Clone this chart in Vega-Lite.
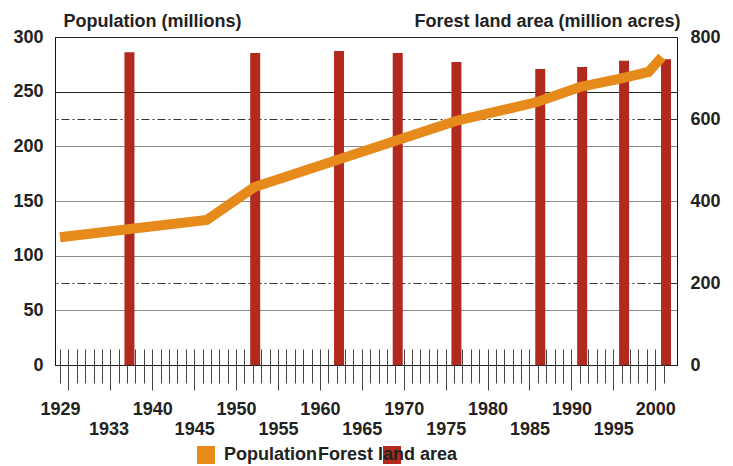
{
  "$schema": "https://vega.github.io/schema/vega-lite/v6.json",
  "width": 622,
  "height": 328,
  "autosize": {"type": "none"},
  "padding": {"left": 55, "top": 37, "right": 56, "bottom": 101},
  "background": "white",
  "config": {
    "font": "Liberation Sans",
    "view": {"stroke": "#222", "strokeWidth": 1}
  },
  "datasets": {
    "forest": [
      {"year": 1938, "forest_area": 763},
      {"year": 1953, "forest_area": 761},
      {"year": 1963, "forest_area": 766},
      {"year": 1970, "forest_area": 761},
      {"year": 1977, "forest_area": 739},
      {"year": 1987, "forest_area": 722},
      {"year": 1992, "forest_area": 727},
      {"year": 1997, "forest_area": 742},
      {"year": 2002, "forest_area": 746}
    ],
    "population": [
      {"year": 1929, "population": 116.8},
      {"year": 1946.5, "population": 132.6},
      {"year": 1952.2, "population": 162.8},
      {"year": 1976.2, "population": 223.2},
      {"year": 1985.9, "population": 240.5},
      {"year": 1991.0, "population": 254.3},
      {"year": 1995.7, "population": 261.6},
      {"year": 1999.2, "population": 268.0},
      {"year": 2000.8, "population": 281.7}
    ]
  },
  "encoding": {
    "x": {
      "field": "year",
      "type": "quantitative",
      "scale": {"domain": [1929, 2002], "nice": false, "zero": false},
      "axis": {
        "title": null,
        "offset": -16,
        "domain": false,
        "values": [1929,1930,1931,1932,1933,1934,1935,1936,1937,1938,1939,1940,1941,1942,1943,1944,1945,1946,1947,1948,1949,1950,1951,1952,1953,1954,1955,1956,1957,1958,1959,1960,1961,1962,1963,1964,1965,1966,1967,1968,1969,1970,1971,1972,1973,1974,1975,1976,1977,1978,1979,1980,1981,1982,1983,1984,1985,1986,1987,1988,1989,1990,1991,1992,1993,1994,1995,1996,1997,1998,1999,2000,2001],
        "tickCount": 200,
        "labelExpr": "indexof([1929,1933,1940,1945,1950,1955,1960,1965,1970,1975,1980,1985,1990,1995,2000], datum.value) >= 0 ? format(datum.value, 'd') : ''",
        "labelOverlap": false,
        "labelFlush": false,
        "labelBound": false,
        "labelFontSize": 18,
        "labelFontWeight": "bold",
        "labelColor": "#222",
        "labelBaseline": "top",
        "labelPadding": {
          "condition": [
            {"test": "datum.value === 1933", "value": 37},
            {"test": "indexof([1945,1955,1965,1975,1985,1995], datum.value) >= 0", "value": 30},
            {"test": "datum.value === 1929", "value": 17}
          ],
          "value": 10
        },
        "labelOffset": {"condition": {"test": "datum.value === 1933", "value": 15}, "value": 0},
        "tickSize": {"condition": {"test": "datum.value % 5 === 0", "value": 41}, "value": 34},
        "tickColor": "#444",
        "tickWidth": 1,
        "grid": false
      }
    }
  },
  "layer": [
    {
      "data": {"name": "forest"},
      "mark": {"type": "bar", "width": 10, "xOffset": -6},
      "encoding": {
        "y": {
          "field": "forest_area",
          "type": "quantitative",
          "scale": {"domain": [0, 800], "nice": false},
          "axis": {
            "orient": "right",
            "title": "Forest land area (million acres)",
            "titleAngle": 0,
            "titleX": 3,
            "titleY": -11,
            "titleAlign": "right",
            "titleBaseline": "alphabetic",
            "titleFontSize": 18,
            "titleFontWeight": "bold",
            "titleColor": "#222",
            "values": [0, 200, 400, 600, 800],
            "ticks": false,
            "labelPadding": 13,
            "labelFontSize": 18,
            "labelFontWeight": "bold",
            "labelColor": "#222",
            "domainColor": "#111",
            "grid": true,
            "gridColor": "#333",
            "gridDash": [8, 3, 2, 3],
            "gridWidth": 1,
            "gridOpacity": {"condition": {"test": "datum.value === 200 || datum.value === 600", "value": 1}, "value": 0}
          }
        },
        "fill": {
          "datum": "Forest land area",
          "type": "nominal",
          "scale": {"domain": ["Forest land area"], "range": ["#B2291E"]},
          "legend": {
            "title": null,
            "orient": "none",
            "direction": "horizontal",
            "legendX": 263,
            "legendY": 409,
            "padding": 0,
            "symbolType": "square",
            "symbolSize": 324,
            "symbolStrokeWidth": 0,
            "symbolOpacity": 1,
            "symbolOffset": 65,
            "labelOffset": -83,
            "labelFontSize": 18,
            "labelFontWeight": "bold",
            "labelColor": "#222",
            "labelLimit": 400
          }
        }
      }
    },
    {
      "data": {"name": "population"},
      "mark": {"type": "line", "strokeWidth": 10, "strokeCap": "butt", "strokeJoin": "miter"},
      "encoding": {
        "y": {
          "field": "population",
          "type": "quantitative",
          "scale": {"domain": [0, 300], "nice": false},
          "axis": {
            "orient": "left",
            "title": "Population (millions)",
            "titleAngle": 0,
            "titleX": 8,
            "titleY": -11,
            "titleAlign": "left",
            "titleBaseline": "alphabetic",
            "titleFontSize": 18,
            "titleFontWeight": "bold",
            "titleColor": "#222",
            "values": [0, 50, 100, 150, 200, 250, 300],
            "ticks": false,
            "labelPadding": 12,
            "labelFontSize": 18,
            "labelFontWeight": "bold",
            "labelColor": "#222",
            "domainColor": "#111",
            "grid": true,
            "gridWidth": 1,
            "gridColor": {"condition": {"test": "datum.value === 250 || datum.value === 0 || datum.value === 300", "value": "#222"}, "value": "#8a8a8a"}
          }
        },
        "color": {
          "datum": "Population",
          "type": "nominal",
          "scale": {"domain": ["Population"], "range": ["#E68A1B"]},
          "legend": {
            "title": null,
            "orient": "none",
            "direction": "horizontal",
            "legendX": 142,
            "legendY": 409,
            "padding": 0,
            "symbolType": "square",
            "symbolSize": 324,
            "symbolFillColor": "#E68A1B",
            "symbolStrokeWidth": 0,
            "symbolOpacity": 1,
            "labelOffset": 9,
            "labelFontSize": 18,
            "labelFontWeight": "bold",
            "labelColor": "#222",
            "labelLimit": 400
          }
        }
      }
    }
  ],
  "resolve": {"scale": {"y": "independent"}}
}
